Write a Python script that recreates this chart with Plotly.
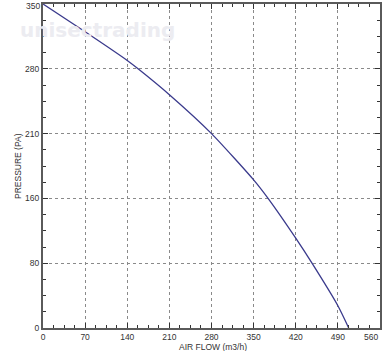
import plotly.graph_objects as go

# Data
air_flow = [0, 70, 140, 158, 210, 280, 350, 374, 420, 447, 490, 508]
pressure = [350, 320, 289, 280, 252, 210, 160, 140, 97, 70, 24, 0]

x_ticks = [0, 70, 140, 210, 280, 350, 420, 490, 560]
y_tickvals = [0, 70, 140, 210, 280, 350]
y_ticktext = ["0", "80", "160", "210", "280", "350"]

FONT = "Liberation Sans"
TXT = "#333333"
TICK_SIZE = 8.5
TITLE_SIZE = 8.5

fig = go.Figure()
fig.add_trace(go.Scatter(
    x=air_flow, y=pressure, mode="lines",
    line=dict(color="#3a3a8c", width=1.3, shape="spline", smoothing=0.6),
    hoverinfo="skip", showlegend=False,
))

axis_common = dict(
    showline=True, linecolor="#5a5a5a", linewidth=2, mirror="allticks",
    ticks="inside", ticklen=5, tickwidth=1, tickcolor=TXT,
    showgrid=True, gridcolor="#8a8a8a", griddash="dot", gridwidth=1,
    zeroline=False, automargin=False,
    tickfont=dict(family=FONT, size=TICK_SIZE, color=TXT),
)

# edge labels (560, 350) are drawn as annotations so they stay visible
fig.update_xaxes(
    range=[0, 560], tickvals=x_ticks,
    ticktext=[str(v) for v in x_ticks[:-1]] + [""],
    minor=dict(dtick=17.5, ticks="inside", ticklen=3, tickcolor=TXT, showgrid=False),
    **axis_common,
)
fig.update_yaxes(
    range=[0, 350], tickvals=y_tickvals,
    ticktext=y_ticktext[:-1] + [""],
    minor=dict(dtick=17.5, ticks="inside", ticklen=3, tickcolor=TXT, showgrid=False),
    **axis_common,
)

fig.add_annotation(
    text=str(x_ticks[-1]), x=x_ticks[-1], y=0, xref="x", yref="y", yshift=-2,
    xanchor="right", yanchor="top", showarrow=False,
    font=dict(family=FONT, size=TICK_SIZE, color=TXT),
)
fig.add_annotation(
    text=y_ticktext[-1], x=0, y=y_tickvals[-1], xref="x", yref="y", xshift=-1,
    xanchor="right", yanchor="top", yshift=5, showarrow=False,
    font=dict(family=FONT, size=TICK_SIZE, color=TXT),
)

# axis titles
fig.add_annotation(
    text="AIR FLOW (m3/h)", x=(213 - 43) / 337, y=(328 - 346.5) / 324,
    xref="paper", yref="paper",
    xanchor="center", yanchor="middle", showarrow=False,
    font=dict(family=FONT, size=TITLE_SIZE, color=TXT),
)
fig.add_annotation(
    text="PRESSURE (PA)", x=(18 - 43) / 337, y=0.5, xref="paper", yref="paper",
    xanchor="center", yanchor="middle", textangle=-90, showarrow=False,
    font=dict(family=FONT, size=TITLE_SIZE, color=TXT),
)

fig.add_annotation(
    text="<b>unisectrading</b>", x=(97 - 43) / 337, y=(328 - 30) / 324,
    xref="paper", yref="paper",
    showarrow=False, xanchor="center", yanchor="middle",
    font=dict(family="DejaVu Sans", size=20, color="#ececf1"),
)

fig.update_layout(
    width=385, height=351,
    margin=dict(l=43, r=5, t=4, b=23),
    paper_bgcolor="white", plot_bgcolor="white",
)

fig.write_html("out.html")
